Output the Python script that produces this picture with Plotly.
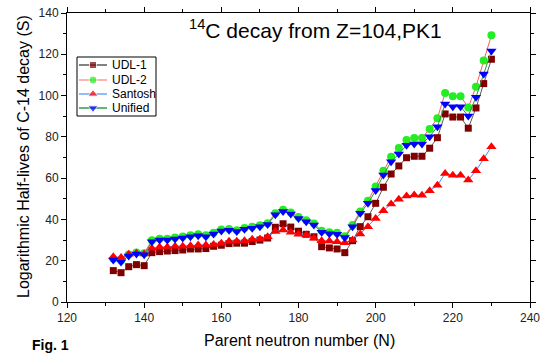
import plotly.graph_objects as go

N = list(range(132, 231, 2))

udl1 = [15.2, 14.2, 17.1, 18.1, 17.6, 23.9, 24.4, 24.7, 24.9, 25.2,
        25.7, 25.7, 25.9, 27.0, 27.5, 28.3, 28.5, 28.5, 29.3, 30.0,
        31.0, 36.2, 37.9, 36.3, 34.3, 32.8, 31.6, 26.8, 26.2, 25.7,
        23.9, 29.7, 36.5, 41.3, 47.8, 55.6, 62.0, 65.9, 69.9, 70.6,
        70.6, 74.5, 79.6, 91.1, 89.6, 89.6, 84.2, 94.0, 105.8, 117.6]

udl2 = [21.0, 20.1, 23.0, 24.0, 23.6, 29.9, 30.7, 30.7, 31.2, 31.7,
        32.3, 32.8, 32.3, 33.6, 35.1, 35.4, 34.8, 35.9, 36.4, 37.2,
        38.2, 43.0, 44.7, 43.3, 41.2, 39.6, 38.0, 34.5, 33.8, 33.5,
        31.9, 37.3, 43.9, 49.0, 56.0, 63.6, 70.4, 74.6, 78.5, 79.5,
        79.5, 83.8, 89.0, 101.2, 99.7, 99.7, 94.2, 104.3, 117.0, 129.2]

santosh = [21.9, 21.6, 23.1, 23.6, 23.3, 26.0, 26.6, 26.6, 27.0, 27.0,
           27.3, 27.6, 27.6, 27.8, 28.4, 29.4, 29.4, 29.7, 30.4, 30.5,
           31.6, 34.1, 34.9, 33.8, 32.8, 32.5, 30.9, 29.7, 29.6, 29.2,
           28.7, 30.0, 33.0, 36.5, 40.5, 44.2, 47.5, 49.8, 51.4, 51.8,
           51.7, 53.9, 56.5, 62.3, 61.4, 61.4, 59.1, 63.6, 69.4, 75.2]

unified = [20.3, 19.4, 22.3, 23.3, 22.9, 29.2, 30.0, 30.0, 30.5, 31.0,
           31.6, 32.1, 31.6, 32.9, 34.4, 34.7, 34.1, 35.2, 35.7, 36.5,
           37.5, 42.3, 43.9, 42.6, 40.5, 38.9, 37.3, 33.8, 33.1, 32.8,
           31.2, 36.5, 43.0, 47.8, 54.0, 61.5, 68.0, 71.7, 75.9, 76.6,
           76.6, 80.1, 84.9, 95.9, 94.6, 94.6, 90.1, 99.2, 110.5, 121.6]

series_names = ["UDL-1", "UDL-2", "Santosh", "Unified"]
x_ticks = [120, 140, 160, 180, 200, 220, 240]
y_ticks = [0, 20, 40, 60, 80, 100, 120, 140]

FONT = "Liberation Sans, Arial, sans-serif"

# styles: (line colour in plot, line colour in legend, marker symbol, marker size, marker colour)
styles = [
    ("#5a5a5a", "#5a5a5a", "square", 7, "#800000"),
    ("#ff5a5a", "#ff9a9a", "circle", 8, "#22ee22"),
    ("#3c8cff", "#6aa8ff", "triangle-up", 9, "#ff0000"),
    ("#1f9a3c", "#2e9e4e", "triangle-down", 9, "#0000ff"),
]

# plot area in pixels
L, R, T, B = 67, 530, 13, 302
W, H = 542, 354


def px(xp):
    return (xp - L) / (R - L)


def py(yp):
    return (B - yp) / (B - T)


fig = go.Figure()
for name, vals, st in zip(series_names, [udl1, udl2, santosh, unified], styles):
    fig.add_trace(go.Scatter(x=N, y=vals, name=name, mode="lines+markers", showlegend=False,
                             line=dict(color=st[0], width=1),
                             marker=dict(symbol=st[2], size=st[3], color=st[4])))

# legend (drawn in paper space)
leg_rows = [65, 80, 94, 108]
shapes = [dict(type="rect", xref="paper", yref="paper", x0=px(77), x1=px(156), y0=py(57), y1=py(116),
               line=dict(color="black", width=1), fillcolor="white", layer="below")]
for yrow, st in zip(leg_rows, styles):
    shapes.append(dict(type="line", xref="paper", yref="paper", x0=px(79), x1=px(107),
                       y0=py(yrow), y1=py(yrow), line=dict(color=st[1], width=1.5), layer="below"))
fig.add_trace(go.Scatter(x=[px(93)] * 4, y=[py(v) for v in leg_rows], xaxis="x2", yaxis="y2",
                         mode="markers", showlegend=False, hoverinfo="skip", cliponaxis=False,
                         marker=dict(symbol=[s[2] for s in styles], size=[s[3] for s in styles],
                                     color=[s[4] for s in styles])))

annotations = []
for yrow, name in zip(leg_rows, series_names):
    annotations.append(dict(text=name, xref="paper", yref="paper", x=px(110), y=py(yrow),
                            xanchor="left", yanchor="middle", showarrow=False,
                            font=dict(family=FONT, size=12, color="black")))

annotations += [
    dict(text="<sup>14</sup>C decay from Z=104,PK1", xref="paper", yref="paper",
         x=px(315), y=py(29), xanchor="center", yanchor="middle", showarrow=False,
         font=dict(family=FONT, size=21, color="black")),
    dict(text="Parent neutron number (N)", xref="paper", yref="paper",
         x=px(299), y=py(340), xanchor="center", yanchor="middle", showarrow=False,
         font=dict(family=FONT, size=16, color="black")),
    dict(text="Logarithmic Half-lives of C-14 decay (S)", xref="paper", yref="paper",
         x=px(23), y=py(157), xanchor="center", yanchor="middle", showarrow=False, textangle=-90,
         font=dict(family=FONT, size=16, color="black")),
    dict(text="<b>Fig. 1</b>", xref="paper", yref="paper",
         x=px(30), y=py(355), xanchor="left", yanchor="bottom", showarrow=False,
         font=dict(family=FONT, size=14, color="black")),
]

axis_common = dict(
    showline=True, linecolor="black", linewidth=1, mirror="allticks",
    ticks="outside", ticklen=5, tickwidth=1, tickcolor="black",
    showgrid=False, zeroline=False, automargin=False,
    tickfont=dict(family=FONT, size=12, color="#222"),
    minor=dict(ticks="outside", ticklen=3, tickwidth=1, tickcolor="black", dtick=10, showgrid=False),
)

fig.update_xaxes(range=[120, 240], tickvals=x_ticks, ticktext=[str(v) for v in x_ticks], **axis_common)
fig.update_yaxes(range=[0, 140], tickvals=y_ticks, ticktext=[str(v) for v in y_ticks], **axis_common)

fig.update_layout(
    width=W, height=H,
    margin=dict(l=L, r=W - R, t=T, b=H - B),
    paper_bgcolor="white", plot_bgcolor="white",
    font=dict(family=FONT),
    showlegend=False,
    xaxis2=dict(overlaying="x", range=[0, 1], visible=False, fixedrange=True),
    yaxis2=dict(overlaying="y", range=[0, 1], visible=False, fixedrange=True),
    shapes=shapes,
    annotations=annotations,
)

fig.write_html("out.html", config={"displayModeBar": False},
               post_script="document.body.style.margin='0';document.body.style.overflow='hidden';")
